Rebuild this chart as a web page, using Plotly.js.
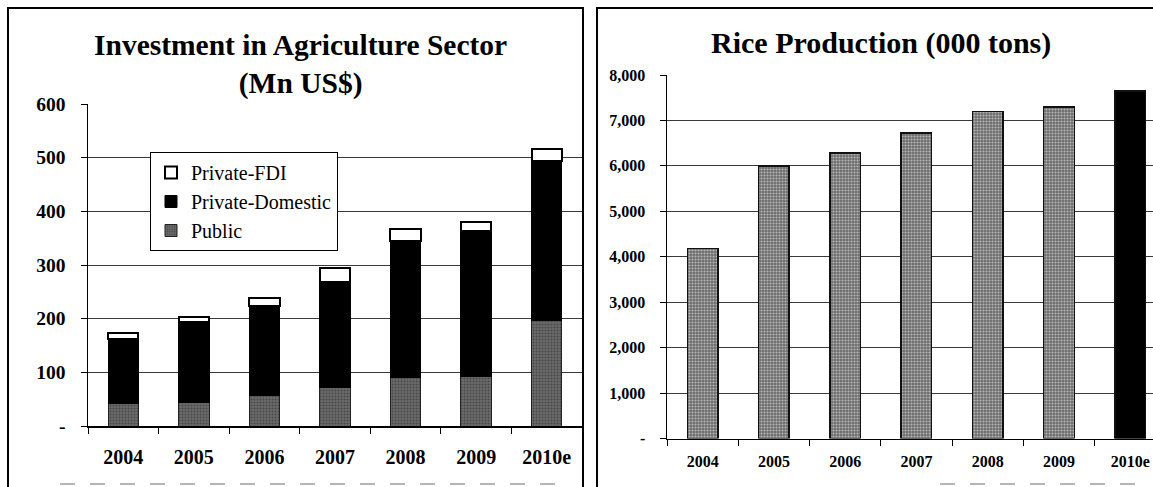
<!DOCTYPE html>
<html>
<head>
<meta charset="utf-8">
<script src="https://cdn.plot.ly/plotly-3.0.1.min.js"></script>
<style>
  html, body { margin: 0; padding: 0; background: #fff; }
  #chart { width: 1153px; height: 487px; }
</style>
</head>
<body>
<div id="chart"></div>
<script>
// ---- data ----
const years = ['2004', '2005', '2006', '2007', '2008', '2009', '2010e'];
const publicInv = [42, 44, 56, 72, 90, 92, 196];
const domesticInv = [120, 149, 168, 197, 255, 272, 298];
const fdiInv = [12, 11, 14, 26, 23, 17, 23];
const riceProd = [4180, 6000, 6280, 6720, 7200, 7300, 7650];
const investTickVals = [0, 100, 200, 300, 400, 500, 600];
const investTickText = ['-', '100', '200', '300', '400', '500', '600'];
const riceTickVals = [0, 1000, 2000, 3000, 4000, 5000, 6000, 7000, 8000];
const riceTickText = ['-', '1,000', '2,000', '3,000', '4,000', '5,000', '6,000', '7,000', '8,000'];
const investTitle = 'Investment in Agriculture Sector<br>(Mn US$)';
const riceTitle = 'Rice Production (000 tons)';

// ---- styling ----
const W = 1153, H = 487;
const SERIF = '"Liberation Serif", "Times New Roman", serif';
const px = v => v / W;
const py = v => 1 - v / H;
const GREY = '#6c6c6c';
const DOT = '#242424';

const traces = [
  {
    type: 'bar', name: 'Public', x: years, y: publicInv,
    xaxis: 'x', yaxis: 'y', legendgroup: 'g3', legendrank: 3,
    marker: {
      color: GREY,
      pattern: { shape: '.', fillmode: 'overlay', fgcolor: DOT, size: 3, solidity: 0.4 },
      line: { color: '#222', width: 1 }
    },
    hoverinfo: 'skip'
  },
  {
    type: 'bar', name: 'Private-Domestic', x: years, y: domesticInv,
    xaxis: 'x', yaxis: 'y', legendgroup: 'g2', legendrank: 2,
    marker: { color: '#000', line: { color: '#000', width: 1 } },
    hoverinfo: 'skip'
  },
  {
    type: 'bar', name: 'Private-FDI', x: years, y: fdiInv,
    xaxis: 'x', yaxis: 'y', legendgroup: 'g1', legendrank: 1,
    marker: { color: '#fff', line: { color: '#000', width: 2 } },
    hoverinfo: 'skip'
  },
  {
    type: 'bar', name: 'Rice', x: years, y: riceProd,
    xaxis: 'x2', yaxis: 'y2', showlegend: false,
    marker: {
      color: years.map(y => y.endsWith('e') ? '#000' : GREY),
      pattern: {
        shape: years.map(y => y.endsWith('e') ? '' : '.'),
        fillmode: 'overlay', fgcolor: DOT, size: 3, solidity: 0.4
      },
      line: { color: '#111', width: 1.5 }
    },
    hoverinfo: 'skip'
  }
];

const tickFontBig = { family: SERIF, size: 20, color: '#000', weight: 'bold' };
const tickFontY = { family: SERIF, size: 19.5, color: '#000', weight: 'bold' };
const tickFontSmall = { family: SERIF, size: 16, color: '#000', weight: 'bold' };

const layout = {
  width: W, height: H,
  margin: { l: 0, r: 0, t: 0, b: 0 },
  paper_bgcolor: '#fff', plot_bgcolor: '#fff',
  barmode: 'stack',
  bargap: 0.57,
  showlegend: true,
  legend: {
    x: px(150), y: py(152), xanchor: 'left', yanchor: 'top',
    bgcolor: '#fff', bordercolor: '#000', borderwidth: 1,
    traceorder: 'grouped', tracegroupgap: 0,
    font: { family: SERIF, size: 20, color: '#000' }
  },
  xaxis: {
    domain: [px(88), px(582)], anchor: 'y', type: 'category',
    range: [-0.5, 6.5], fixedrange: true,
    showline: true, linecolor: '#000', linewidth: 1.5,
    ticks: 'outside', tickson: 'boundaries', ticklen: 6, tickcolor: '#000', tickwidth: 1,
    tickfont: tickFontBig, ticklabelstandoff: 12, showgrid: false
  },
  yaxis: {
    domain: [py(426), py(104)], anchor: 'x',
    range: [0, 600], fixedrange: true,
    tickvals: investTickVals, ticktext: investTickText,
    showline: true, linecolor: '#000', linewidth: 1.5,
    ticks: 'outside', ticklen: 6, tickcolor: '#000',
    tickfont: tickFontY, ticklabelstandoff: 11,
    showgrid: true, gridcolor: '#3a3a3a', gridwidth: 1, zeroline: false
  },
  xaxis2: {
    domain: [px(667), 1], anchor: 'y2', type: 'category',
    range: [-0.5, 6.32], fixedrange: true,
    showline: true, linecolor: '#000', linewidth: 1.5,
    ticks: 'outside', tickson: 'boundaries', ticklen: 6, tickcolor: '#000', tickwidth: 1,
    tickfont: tickFontSmall, ticklabelstandoff: 8, showgrid: false
  },
  yaxis2: {
    domain: [py(438.5), py(75)], anchor: 'x2',
    range: [0, 8000], fixedrange: true,
    tickvals: riceTickVals, ticktext: riceTickText,
    showline: true, linecolor: '#000', linewidth: 1.5,
    ticks: 'outside', ticklen: 6, tickcolor: '#000',
    tickfont: tickFontSmall, ticklabelstandoff: 11,
    showgrid: true, gridcolor: '#3a3a3a', gridwidth: 1, zeroline: false
  },
  annotations: [
    {
      xref: 'paper', yref: 'paper', x: px(300), y: py(27),
      xanchor: 'center', yanchor: 'top', showarrow: false,
      text: investTitle,
      font: { family: SERIF, size: 29.5, color: '#000', weight: 'bold' }
    },
    {
      xref: 'paper', yref: 'paper', x: px(881), y: py(24),
      xanchor: 'center', yanchor: 'top', showarrow: false,
      text: riceTitle,
      font: { family: SERIF, size: 30, color: '#000', weight: 'bold' }
    }
  ],
  shapes: [
    { type: 'rect', xref: 'paper', yref: 'paper',
      x0: px(8), x1: px(583), y0: py(495), y1: py(8),
      line: { color: '#000', width: 2 } },
    { type: 'rect', xref: 'paper', yref: 'paper',
      x0: px(597), x1: px(1165), y0: py(495), y1: py(8),
      line: { color: '#000', width: 2 } },
    { type: 'line', xref: 'paper', yref: 'paper',
      x0: px(60), x1: px(560), y0: py(484), y1: py(484),
      line: { color: '#b5b5b5', width: 2, dash: 'longdash' } },
    { type: 'line', xref: 'paper', yref: 'paper',
      x0: px(940), x1: px(1150), y0: py(484), y1: py(484),
      line: { color: '#b5b5b5', width: 2, dash: 'longdash' } }
  ]
};

Plotly.newPlot('chart', traces, layout, { displayModeBar: false, staticPlot: true });
</script>
</body>
</html>
